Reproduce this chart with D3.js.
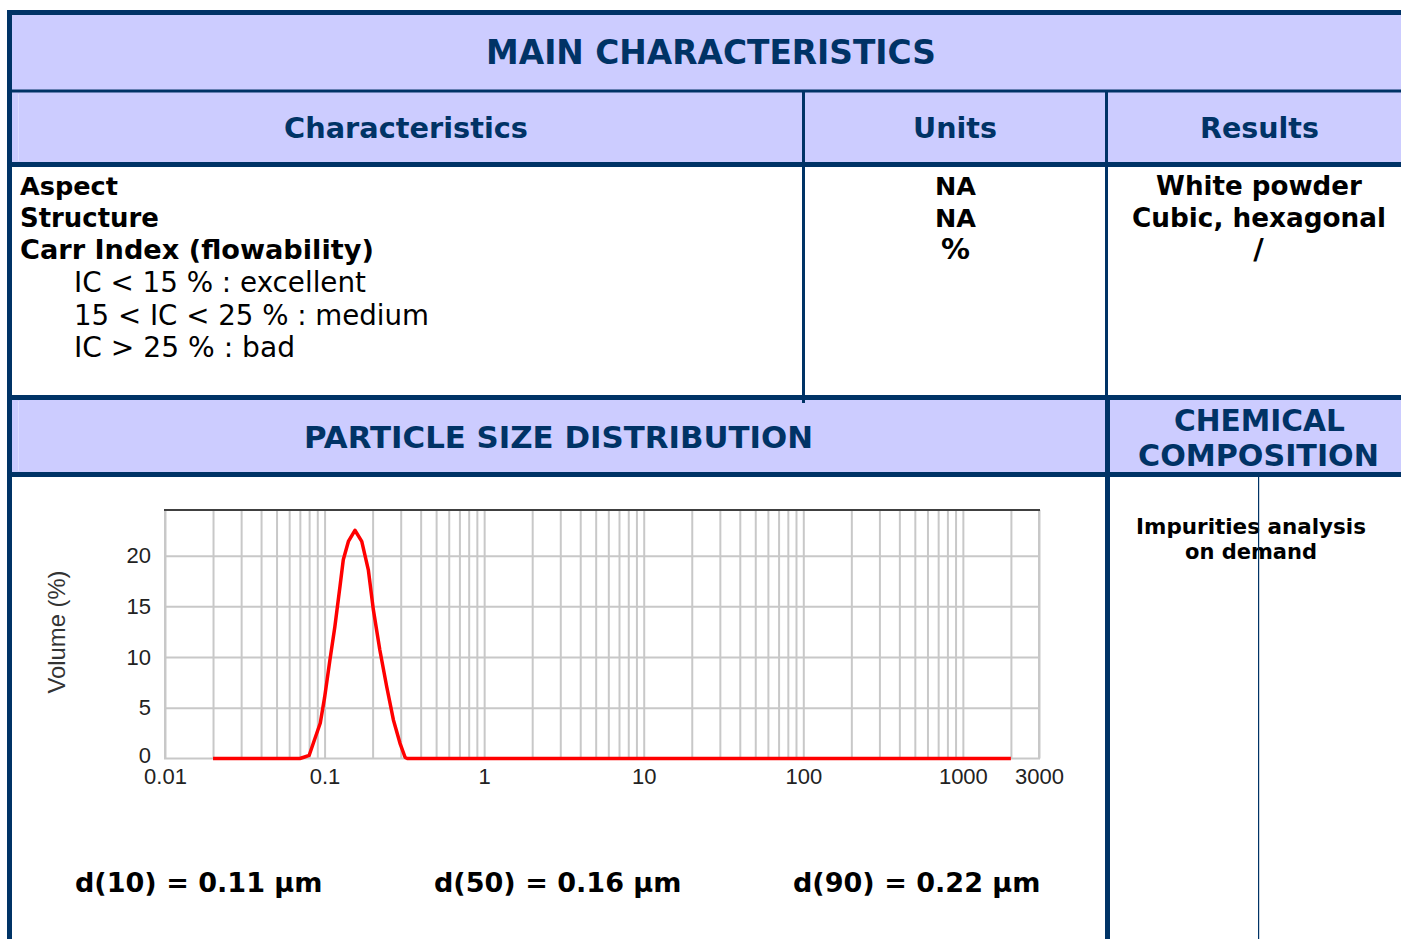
<!DOCTYPE html>
<html>
<head>
<meta charset="utf-8">
<script src="https://cdn.jsdelivr.net/npm/d3@7"></script>
<style>
html,body{margin:0;padding:0;background:#fff;overflow:hidden;}
svg{display:block;}
</style>
</head>
<body>
<svg id="c" width="1401" height="939"></svg>
<script>
// ---------- DATA ----------
const particleSizes = [0.02, 0.07, 0.075, 0.08, 0.085, 0.094, 0.1, 0.108, 0.116, 0.125, 0.131, 0.141, 0.155, 0.171, 0.188, 0.202, 0.222, 0.245, 0.27, 0.297, 0.32, 0.33, 2000];
const volumePct     = [0,    0,    0.15,  0.3,  1.5,   3.5,   6.0, 9.7,   13.0,  17.0,  19.6,  21.4,  22.5,  21.4,  18.6,  14.7,  10.7,  7.1,   3.8,  1.5,   0.1,  0,    0];
const xLabelTicks = [0.01, 0.1, 1, 10, 100, 1000, 3000];
const xLabelText  = ["0.01", "0.1", "1", "10", "100", "1000", "3000"];
const yLabelTicks = [0, 5, 10, 15, 20];
const yGridTicks  = [5, 10, 15, 20];
const charNames   = ["Aspect", "Structure", "Carr Index (flowability)"];
const carrNotes   = ["IC < 15 % : excellent", "15 < IC < 25 % : medium", "IC > 25 % : bad"];
const unitsCol    = ["NA", "NA", "%"];
const resultsCol  = ["White powder", "Cubic, hexagonal", "/"];
const dLabels     = ["d(10) = 0.11 µm", "d(50) = 0.16 µm", "d(90) = 0.22 µm"];

// ---------- STYLE ----------
const NAVY = "#003366", LAV = "#ccccff";
const BOLD = "'DejaVu Sans', Verdana, sans-serif";
const CHART_FONT = "'Liberation Sans', Arial, sans-serif";

const svg = d3.select("#c");

function rect(x0, y0, x1, y1, fill) {
  svg.append("rect").attr("x", x0).attr("y", y0).attr("width", x1 - x0).attr("height", y1 - y0).attr("fill", fill);
}
// backgrounds
rect(12, 15, 1401, 90, LAV);
rect(12, 92, 1401, 163, LAV);
rect(12, 399, 1401, 473, LAV);
svg.append("rect").attr("x", 18).attr("y", 94).attr("width", 1).attr("height", 67).attr("fill", "#dcdcff");
svg.append("rect").attr("x", 18).attr("y", 401).attr("width", 1).attr("height", 70).attr("fill", "#dcdcff");

// borders
rect(7, 10, 1401, 15, NAVY);
rect(7, 10, 12, 939, NAVY);
rect(12, 89.5, 1401, 92.5, NAVY);
rect(12, 162, 1401, 167, NAVY);
rect(12, 395, 1401, 400, NAVY);
rect(12, 472, 1401, 477, NAVY);
rect(802, 92, 805, 403, NAVY);
rect(1105, 92, 1108, 400, NAVY);
rect(1105, 400, 1110, 939, NAVY);

function txt(str, x, y, w, opts) {
  const fs0 = opts.size || 20;
  const t = svg.append("text")
    .attr("x", x).attr("y", y)
    .attr("text-anchor", opts.anchor || "start")
    .attr("font-family", opts.family || BOLD)
    .attr("font-weight", opts.weight || "bold")
    .attr("fill", opts.fill || "#000")
    .attr("font-size", fs0)
    .text(str);
  if (w) {
    const l = t.node().getComputedTextLength();
    t.attr("font-size", (fs0 * w / l).toFixed(2));
  }
  return t;
}

// headers
txt("MAIN CHARACTERISTICS", 711, 64, 450, {anchor: "middle", fill: NAVY});
txt("Characteristics", 406, 138, 244, {anchor: "middle", fill: NAVY});
txt("Units", 955, 138, 84, {anchor: "middle", fill: NAVY});
txt("Results", 1259.5, 138, 119, {anchor: "middle", fill: NAVY});

const rowBase = [195, 227, 259];
const charW = [98, 139, 354];
charNames.forEach((s, i) => txt(s, 20, rowBase[i], charW[i], {}));
const noteBase = [292, 324.5, 357];
const noteW = [292, 355, 221];
carrNotes.forEach((s, i) => txt(s, 74, noteBase[i], noteW[i], {weight: "normal"}));

const na = txt(unitsCol[0], 955.5, rowBase[0], 41, {anchor: "middle"});
const naSize = +na.attr("font-size");
txt(unitsCol[1], 955.5, rowBase[1], null, {anchor: "middle", size: naSize});
txt(unitsCol[2], 955.5, rowBase[2], 29, {anchor: "middle", size: naSize});

const wp = txt(resultsCol[0], 1259, rowBase[0], 206, {anchor: "middle"});
txt(resultsCol[1], 1259, rowBase[1], 254, {anchor: "middle"});
txt(resultsCol[2], 1258.5, rowBase[2], null, {anchor: "middle", size: +wp.attr("font-size") * 1.1});

txt("PARTICLE SIZE DISTRIBUTION", 558.5, 448, 509, {anchor: "middle", fill: NAVY});
txt("CHEMICAL", 1259.5, 431, 171, {anchor: "middle", fill: NAVY});
txt("COMPOSITION", 1258.5, 466, 241, {anchor: "middle", fill: NAVY});

txt("Impurities analysis", 1251, 534, 230, {anchor: "middle"});
txt("on demand", 1251, 559, 132, {anchor: "middle"});
svg.append("rect").attr("x", 1258).attr("y", 477).attr("width", 1.2).attr("height", 462).attr("fill", NAVY);

const dX = [75, 434, 793];
dLabels.forEach((s, i) => txt(s, dX[i], 892, 247.5, {}));

// ---------- CHART ----------
const x = d3.scaleLog().domain([0.01, 3000]).range([165, 1039]);
const y = d3.scaleLinear().domain([0, 24.5]).range([758.5, 510]);
const GRID = "#c8c8c8";

const chart = svg.append("g");
chart.append("g")
  .attr("transform", `translate(0,${y(0)})`)
  .call(d3.axisBottom(x).ticks(20).tickSize(-(y(0) - y(24.5))).tickFormat(""))
  .call(g => g.select(".domain").remove())
  .call(g => g.selectAll(".tick line").attr("stroke", GRID).attr("stroke-width", 2));
chart.append("g")
  .attr("transform", `translate(${x(0.01)},0)`)
  .call(d3.axisLeft(y).tickValues(yGridTicks).tickSize(-(x(3000) - x(0.01))).tickFormat(""))
  .call(g => g.select(".domain").remove())
  .call(g => g.selectAll(".tick line").attr("stroke", GRID).attr("stroke-width", 2));
chart.append("rect").attr("x", x(0.01)).attr("y", y(24.5)).attr("width", x(3000) - x(0.01)).attr("height", y(0) - y(24.5))
  .attr("fill", "none").attr("stroke", GRID).attr("stroke-width", 2);
chart.append("line").attr("x1", x(0.01) - 1).attr("x2", x(3000) + 1).attr("y1", y(24.5)).attr("y2", y(24.5))
  .attr("stroke", "#404040").attr("stroke-width", 2);

const line = d3.line().x(d => x(d[0])).y(d => y(d[1]));
chart.append("path")
  .datum(particleSizes.map((s, i) => [s, volumePct[i]]))
  .attr("d", line).attr("fill", "none").attr("stroke", "#ff0000").attr("stroke-width", 3.5).attr("stroke-linejoin", "round");

const xa = chart.append("g")
  .attr("transform", `translate(0,${y(0)})`)
  .call(d3.axisBottom(x).tickValues(xLabelTicks).tickSize(0).tickPadding(0).tickFormat((d, i) => xLabelText[i]));
xa.select(".domain").remove();
xa.selectAll("text").attr("y", 25).attr("dy", null).attr("font-family", CHART_FONT).attr("font-size", 22).attr("fill", "#222");

const ya = chart.append("g")
  .attr("transform", `translate(151,0)`)
  .call(d3.axisLeft(y).tickValues(yLabelTicks).tickSize(0).tickPadding(0));
ya.select(".domain").remove();
ya.selectAll("text").attr("x", 0).attr("font-family", CHART_FONT).attr("font-size", 22).attr("fill", "#222");
ya.selectAll(".tick").filter(d => d === 0).attr("transform", `translate(0,${y(0) - 3})`);

const yt = svg.append("text")
  .attr("transform", "translate(65,632) rotate(-90)")
  .attr("text-anchor", "middle")
  .attr("font-family", CHART_FONT).attr("font-size", 20).attr("fill", "#333")
  .text("Volume (%)");
const ytl = yt.node().getComputedTextLength();
yt.attr("font-size", (20 * 123 / ytl).toFixed(2));
</script>
</body>
</html>
